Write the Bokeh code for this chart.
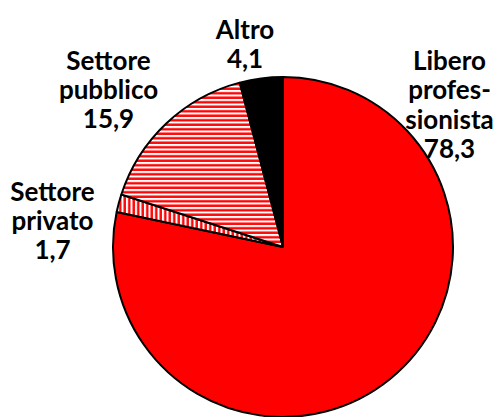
import math
from bokeh.plotting import figure
from bokeh.models import ColumnDataSource, Range1d
from bokeh.core.properties import value
from bokeh.embed import file_html
from bokeh.resources import INLINE

# ---- data ----
categories = ["Libero professionista", "Settore privato", "Settore pubblico", "Altro"]
label_lines = [["Libero", "profes-", "sionista"], ["Settore", "privato"], ["Settore", "pubblico"], ["Altro"]]
values = [78.3, 1.7, 15.9, 4.1]

# ---- styles / layout ----
fills = ["#FF0000", "#FFFFFF", "#FFFFFF", "#000000"]
hatches = ["blank", "vertical_line", "horizontal_line", "blank"]
W, H = 495, 417
cx, cy, R = 282.5, H - 246.5, 170
# label anchors in page pixels: (center x, first baseline y)
label_anchor = [(449, 59), (52, 190), (108, 59), (244.5, 28)]
line_step = 29.5
font = "Lato"
fsize = "26px"

p = figure(width=W, height=H, output_backend="svg", toolbar_location=None,
           x_range=Range1d(0, W), y_range=Range1d(0, H), min_border=0)
p.axis.visible = False
p.grid.visible = False
p.outline_line_color = None
p.background_fill_color = "white"

total = sum(values)
starts, ends = [], []
a = 90.0
for v in values:
    sweep = v / total * 360.0
    ends.append(math.radians(a))
    starts.append(math.radians(a - sweep))
    a -= sweep

for i in range(len(values)):
    src = ColumnDataSource(dict(x=[cx], y=[cy], s=[starts[i]], e=[ends[i]]))
    p.wedge(x="x", y="y", radius=R, start_angle="s", end_angle="e", source=src,
            fill_color=fills[i], line_color="black", line_width=2,
            hatch_pattern=hatches[i], hatch_color="#FF0000", hatch_scale=4.5, hatch_weight=2.4)

tx, ty, tt = [], [], []
for i, cat in enumerate(categories):
    lines = label_lines[i] + [f"{values[i]:.1f}".replace(".", ",")]
    X, Y = label_anchor[i]
    for j, ln in enumerate(lines):
        tx.append(X)
        ty.append(H - (Y + j * line_step))
        tt.append(ln)

p.text(x=tx, y=ty, text=tt, text_font=value(font), text_font_style="bold",
       text_font_size=fsize, text_align="center", text_baseline="alphabetic", text_color="black")

open("out.html", "w").write(file_html(p, INLINE))
